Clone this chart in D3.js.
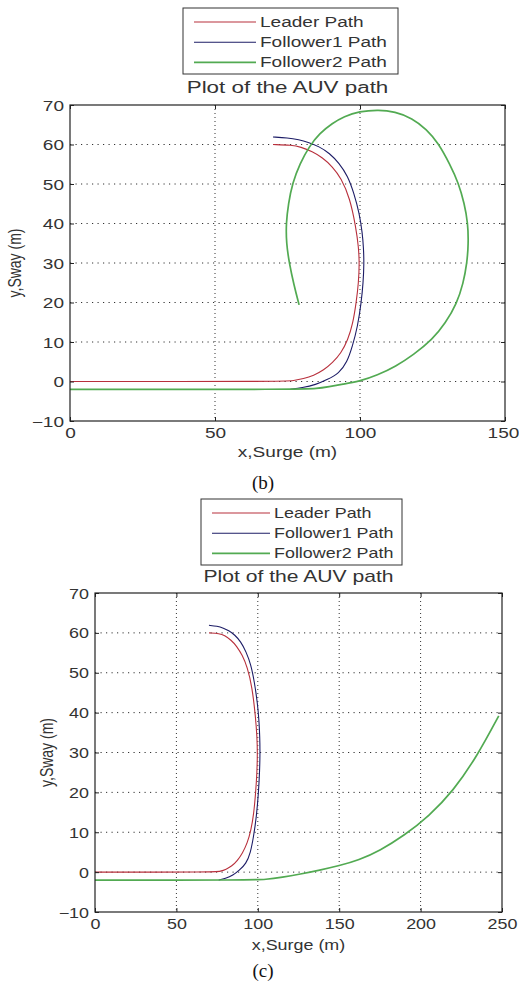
<!DOCTYPE html>
<html>
<head>
<meta charset="utf-8">
<script src="https://cdn.jsdelivr.net/npm/d3@7/dist/d3.min.js"></script>
<style>
  body { margin: 0; background: #fff; }
  svg { display: block; font-family: "Liberation Sans", Arial, sans-serif; }
</style>
</head>
<body>
<svg id="fig" width="519" height="982"></svg>
<script>
// legend / labels
var legendLabels = ["Leader Path", "Follower1 Path", "Follower2 Path"];
var seriesColors = ["#b8303c", "#1c1c66", "#52aa52"];

// ticks
var yTicks = [-10, 0, 10, 20, 30, 40, 50, 60, 70];
var xTicksB = [0, 50, 100, 150];
var xTicksC = [0, 50, 100, 150, 200, 250];

// leader path (same in both runs)
var leaderX = [0, 74, 77, 80.5, 84, 87.5, 90.5, 93.5, 95.8, 97.5, 98.7, 99.5, 99.8, 99.5, 98.6, 96.5, 93.5, 90.5, 87, 83.6, 79.5, 76.5, 70];
var leaderY = [0, 0, 0.2, 0.7, 1.5, 2.9, 4.7, 7.2, 10.5, 14.5, 20, 25, 30, 34, 39, 46.5, 51.5, 54.4, 56.7, 58.2, 59.4, 59.85, 60];

// follower 1 path
var follower1X = [76, 80, 84.8, 88.5, 92.8, 95.5, 97.4, 99.2, 100.4, 101.1, 101.4, 101.2, 100.8, 99.8, 97.9, 95.8, 92.8, 89.5, 85.9, 82, 79, 75, 70];
var follower1Y = [-2, -1.6, -0.8, 0.4, 2.1, 4.8, 8.9, 14, 19.8, 25, 30, 34, 37.6, 42.5, 47.7, 52, 55.3, 57.8, 59.5, 60.6, 61.2, 61.7, 61.9];

// follower 2 path, run (b)
var follower2bX = [0, 80, 85, 89.3, 94, 99.7, 106, 112.3, 118.5, 124.9, 129.5, 133.4, 135.6, 136.9, 137.4, 137.2, 136, 134, 131, 127, 123, 118, 112, 106.5, 99.7, 94.5, 90.5, 86, 82.5, 79.3, 76.7, 75.3, 74.5, 74.6, 75.6, 77.2, 79];
var follower2bY = [-2, -2, -1.8, -1.3, -0.7, 0, 1.6, 3.8, 6.8, 10.6, 14.8, 19.8, 24.8, 30, 35, 40.1, 45, 50.2, 55, 60.4, 63.8, 66.7, 68.3, 68.8, 68.4, 67.1, 65.4, 62.8, 59.5, 55.2, 50.2, 45, 40, 35, 30, 24.5, 19.4];

// follower 2 path, run (c)
var follower2cX = [0, 95, 105, 115, 126, 138, 150, 162, 175, 190, 205, 220, 235, 248];
var follower2cY = [-2, -2, -1.85, -1.3, -0.5, 0.5, 1.6, 3.0, 5.4, 9.2, 14.0, 20.3, 29.3, 39.2];

function zip(xs, ys) {
  return xs.map(function(d, i) { return [d, ys[i]]; });
}

var svg = d3.select("#fig");
svg.append("rect").attr("width", 519).attr("height", 982).attr("fill", "#fff");

// text that is a bit wider than normal, like the stretched figure
function wideText(g, x, y, str, size, anchor, sx) {
  return g.append("text")
    .attr("transform", "translate(" + x + "," + y + ") scale(" + sx + ",1)")
    .attr("text-anchor", anchor)
    .attr("font-size", size)
    .attr("fill", "#333")
    .text(str);
}

function drawPanel(p) {
  var g = svg.append("g");
  var x = d3.scaleLinear().domain([0, p.xMax]).range([p.left, p.right]);
  var y = d3.scaleLinear().domain([-10, 70]).range([p.bottom, p.top]);

  // dotted grid
  g.selectAll(".gx").data(p.xTicks.slice(1, -1)).enter().append("line")
    .attr("x1", function(d) { return x(d); }).attr("x2", function(d) { return x(d); })
    .attr("y1", p.top).attr("y2", p.bottom)
    .attr("stroke", "#333").attr("stroke-width", 1).attr("stroke-dasharray", "1,3");
  g.selectAll(".gy").data(yTicks.slice(1, -1)).enter().append("line")
    .attr("x1", p.left).attr("x2", p.right)
    .attr("y1", function(d) { return y(d); }).attr("y2", function(d) { return y(d); })
    .attr("stroke", "#333").attr("stroke-width", 1).attr("stroke-dasharray", "1.2,4.3");

  // paths
  var clipId = "clip" + p.name;
  g.append("clipPath").attr("id", clipId).append("rect")
    .attr("x", p.left).attr("y", p.top).attr("width", p.right - p.left).attr("height", p.bottom - p.top);
  var line = d3.line()
    .x(function(d) { return x(d[0]); })
    .y(function(d) { return y(d[1]); })
    .curve(d3.curveBasis);
  var series = [zip(leaderX, leaderY), zip(follower1X, follower1Y), p.green];
  g.append("g").attr("clip-path", "url(#" + clipId + ")")
    .selectAll("path").data(series).enter().append("path")
    .attr("d", line)
    .attr("fill", "none")
    .attr("stroke", function(d, i) { return seriesColors[i]; })
    .attr("stroke-width", function(d, i) { return i == 2 ? 1.7 : 1.1; });

  // axes (ticks inside, like matlab)
  var xa = g.append("g").attr("transform", "translate(0," + p.bottom + ")")
    .call(d3.axisBottom(x).tickValues(p.xTicks).tickSize(-4).tickFormat(d3.format("d")));
  xa.selectAll("text").attr("y", null).attr("dy", null)
    .attr("transform", function(d, i) {
      var shift = (d == p.xMax && p.name == "b") ? -2 : 0;
      return "translate(" + shift + ",17) scale(" + p.sx + ",1)";
    });
  var ya = g.append("g").attr("transform", "translate(" + p.left + ",0)")
    .call(d3.axisLeft(y).tickValues(yTicks).tickSize(-4).tickFormat(d3.format("d")));
  ya.selectAll("text").attr("x", null).attr("dy", null)
    .attr("transform", "translate(-6,5) scale(" + p.sx + ",1)");
  g.append("g").attr("transform", "translate(0," + p.top + ")")
    .call(d3.axisTop(x).tickValues(p.xTicks).tickSize(-4).tickFormat(""));
  g.append("g").attr("transform", "translate(" + p.right + ",0)")
    .call(d3.axisRight(y).tickValues(yTicks).tickSize(-4).tickFormat(""));
  g.selectAll(".domain").remove();
  g.selectAll(".tick line").attr("stroke", "#222");
  g.selectAll(".tick text").attr("font-size", 14).attr("fill", "#333")
    .attr("font-family", "Liberation Sans, Arial, sans-serif");

  g.append("rect")
    .attr("x", p.left).attr("y", p.top)
    .attr("width", p.right - p.left).attr("height", p.bottom - p.top)
    .attr("fill", "none").attr("stroke", "#222").attr("stroke-width", 1.2);

  // labels
  wideText(g, (p.left + p.right) / 2, p.xLabelY, "x,Surge (m)", 14, "middle", p.sx);
  g.append("text")
    .attr("transform", "translate(" + p.yLabelX + "," + ((p.top + p.bottom) / 2) + ") scale(" + p.sx + ",1) rotate(-90)")
    .attr("text-anchor", "middle").attr("dy", "0.35em")
    .attr("font-size", 14).attr("fill", "#333")
    .text("y,Sway (m)");
  wideText(g, (p.left + p.right) / 2, p.titleY, "Plot of the AUV path", 16, "middle", p.sx + 0.04);

  // legend
  var lg = g.append("g");
  lg.append("rect")
    .attr("x", p.legend[0]).attr("y", p.legend[1])
    .attr("width", p.legend[2] - p.legend[0]).attr("height", p.legend[3] - p.legend[1])
    .attr("fill", "#fff").attr("stroke", "#333").attr("stroke-width", 1);
  legendLabels.forEach(function(lab, i) {
    var yy = p.legend[1] + 14 + i * 20.2;
    lg.append("line")
      .attr("x1", p.legendLine[0]).attr("x2", p.legendLine[1])
      .attr("y1", yy).attr("y2", yy)
      .attr("stroke", seriesColors[i]).attr("stroke-width", i == 2 ? 1.7 : 1.1);
    wideText(lg, p.legendLine[1] + 4, yy + 5, lab, 14, "start", p.sx);
  });

  // caption under the figure
  svg.append("text")
    .attr("x", 263).attr("y", p.capY)
    .attr("text-anchor", "middle")
    .attr("font-family", "Liberation Serif, Times New Roman, serif")
    .attr("font-size", 19).attr("fill", "#111")
    .text(p.caption);
}

drawPanel({
  name: "b", xMax: 150, xTicks: xTicksB,
  left: 70, right: 505, top: 105, bottom: 421,
  green: zip(follower2bX, follower2bY),
  sx: 1.36, xLabelY: 457, yLabelX: 14, titleY: 93,
  legend: [183, 8, 398, 74], legendLine: [194, 256],
  caption: "(b)", capY: 489
});

drawPanel({
  name: "c", xMax: 250, xTicks: xTicksC,
  left: 95, right: 502, top: 593, bottom: 912,
  green: zip(follower2cX, follower2cY),
  sx: 1.28, xLabelY: 950, yLabelX: 47, titleY: 582,
  legend: [201, 499, 402, 565], legendLine: [212, 270],
  caption: "(c)", capY: 977
});
</script>
</body>
</html>
